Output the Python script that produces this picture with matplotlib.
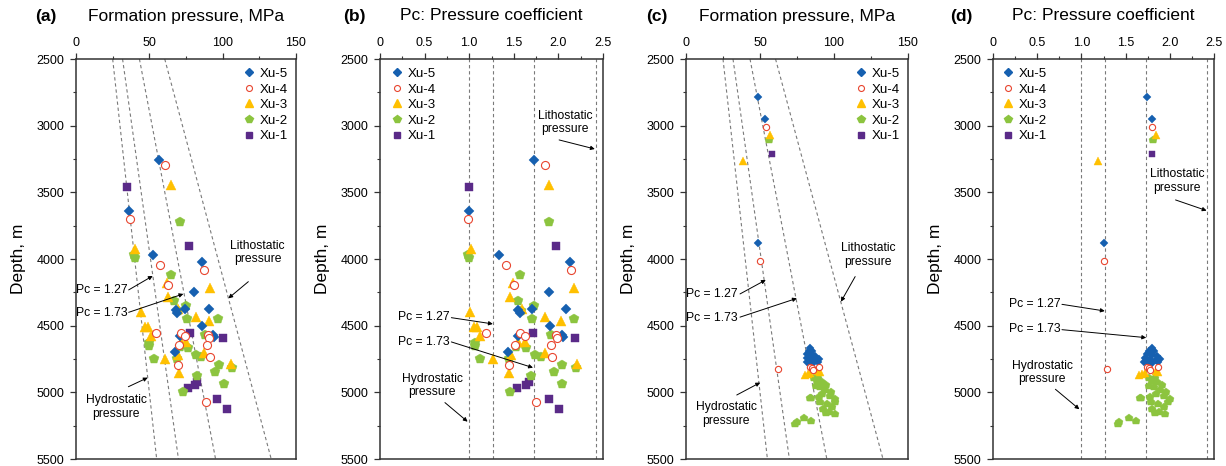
import numpy as np
import matplotlib
matplotlib.use("Agg")
import matplotlib.pyplot as plt
from matplotlib.lines import Line2D
from matplotlib.ticker import MultipleLocator, FuncFormatter

plt.rcParams["font.family"] = ["Liberation Sans", "DejaVu Sans"]

# hydrostatic gradient, MPa per metre
HYDRO_GRAD = 0.01
# reference coefficients: hydrostatic, Pc = 1.27, Pc = 1.73, lithostatic
REF_PC = [1.0, 1.27, 1.73, 2.42]

WELLS = ["Xu-5", "Xu-4", "Xu-3", "Xu-2", "Xu-1"]

# ---------- group 1 (panels a, b): depth (m) and pressure coefficient ----------
XU5_DEPTH_1 = [3260, 3642, 3972, 4022, 4248, 4372, 4375, 4385, 4405, 4503, 4567, 4587, 4577, 4700]
XU5_PC_1 = [1.73, 1.00, 1.33, 2.13, 1.90, 2.08, 1.70, 1.55, 1.57, 1.91, 2.04, 2.05, 1.55, 1.44]

XU4_DEPTH_1 = [3292, 3700, 4045, 4080, 4192, 4557, 4555, 4577, 4572, 4592, 4645, 4647, 4737, 4792, 5070]
XU4_PC_1 = [1.85, 0.99, 1.41, 2.14, 1.50, 1.19, 1.57, 1.62, 1.97, 1.98, 1.51, 1.92, 1.93, 1.45, 1.75]

XU3_DEPTH_1 = [3445, 3922, 4182, 4215, 4283, 4377, 4397, 4433, 4465, 4512, 4512, 4580,
               4620, 4620, 4707, 4720, 4752, 4785, 4857]
XU3_PC_1 = [1.89, 1.02, 1.49, 2.17, 1.46, 1.59, 1.01, 1.85, 2.03, 1.05, 1.09, 1.12,
            1.55, 1.62, 1.85, 1.47, 1.27, 2.21, 1.45]

XU2_DEPTH_1 = [3725, 3972, 3990, 4122, 4312, 4352, 4387, 4452, 4452, 4572, 4630, 4652,
               4662, 4670, 4720, 4737, 4752, 4752, 4795, 4820, 4845, 4877, 4937, 4997]
XU2_PC_1 = [1.90, 0.99, 1.00, 1.57, 1.55, 1.73, 1.58, 1.70, 2.18, 1.92, 1.07, 1.07,
            1.52, 1.64, 1.74, 1.80, 1.12, 1.45, 2.04, 2.20, 1.95, 1.69, 2.04, 1.46]

XU1_DEPTH_1 = [3462, 3900, 4553, 4590, 4968, 4945, 4920, 5052, 5127]
XU1_PC_1 = [1.00, 1.97, 1.71, 2.19, 1.54, 1.64, 1.67, 1.90, 2.01]

# ---------- group 2 (panels c, d) ----------
XU5_DEPTH_2 = [2787, 2950, 3882, 4667, 4687, 4692, 4712, 4717, 4725, 4742, 4750, 4757,
               4750, 4775, 4782, 4770, 4795, 4775]
XU5_PC_2 = [1.74, 1.80, 1.26, 1.80, 1.77, 1.82, 1.74, 1.80, 1.85, 1.72, 1.78, 1.84,
            1.89, 1.75, 1.80, 1.87, 1.76, 1.71]

XU4_DEPTH_2 = [3007, 4017, 4822, 4812, 4817, 4830, 4812]
XU4_PC_2 = [1.80, 1.25, 1.29, 1.74, 1.77, 1.78, 1.87]

XU3_DEPTH_2 = [3067, 3262, 4868, 4860, 4855, 4838, 4845]
XU3_PC_2 = [1.84, 1.19, 1.65, 1.69, 1.72, 1.84, 1.87]

XU2_DEPTH_2 = [3110, 5042, 5045, 5225, 5237, 5195, 5212,
               4895, 4890, 4912, 4925, 4942, 4962, 4982, 5000, 5012, 5025, 5032, 5050,
               5075, 5075, 5087, 5112, 5125, 5150, 5157, 5162, 4950]
XU2_PC_2 = [1.81, 1.66, 1.67, 1.43, 1.41, 1.54, 1.62,
            1.76, 1.83, 1.80, 1.86, 1.91, 1.82, 1.89, 1.96, 1.84, 1.94, 1.78, 2.00,
            1.79, 1.98, 1.87, 1.93, 1.80, 1.88, 1.83, 1.95, 1.77]

XU1_DEPTH_2 = [3215]
XU1_PC_2 = [1.80]

GROUP_1 = {
    "Xu-5": (XU5_DEPTH_1, XU5_PC_1),
    "Xu-4": (XU4_DEPTH_1, XU4_PC_1),
    "Xu-3": (XU3_DEPTH_1, XU3_PC_1),
    "Xu-2": (XU2_DEPTH_1, XU2_PC_1),
    "Xu-1": (XU1_DEPTH_1, XU1_PC_1),
}
GROUP_2 = {
    "Xu-5": (XU5_DEPTH_2, XU5_PC_2),
    "Xu-4": (XU4_DEPTH_2, XU4_PC_2),
    "Xu-3": (XU3_DEPTH_2, XU3_PC_2),
    "Xu-2": (XU2_DEPTH_2, XU2_PC_2),
    "Xu-1": (XU1_DEPTH_2, XU1_PC_2),
}

# marker, colour, size in the big panels, size in the small panels, legend size
STYLE = {
    "Xu-5": ("D", "#1660b0", 5.2, 4.2, 3.6),
    "Xu-4": ("o", "#e8452f", 5.8, 4.5, 4.3),
    "Xu-3": ("^", "#ffc000", 6.5, 5.4, 5.1),
    "Xu-2": ("p", "#8cc43f", 7.2, 6.2, 5.4),
    "Xu-1": ("s", "#5a2a88", 5.3, 4.3, 4.1),
}
DRAW_ORDER = ["Xu-1", "Xu-2", "Xu-3", "Xu-5", "Xu-4"]

AX_COLOR = "#333333"
REF_COLOR = "#7a7a7a"


def draw_marks(ax, group, kind, size_idx):
    for well in DRAW_ORDER:
        depth, pc = group[well]
        depth = np.asarray(depth, float)
        pc = np.asarray(pc, float)
        x = pc * HYDRO_GRAD * depth if kind == "p" else pc
        marker, color, *sizes = STYLE[well]
        ms = sizes[size_idx]
        if marker == "o":
            ax.plot(x, depth, ls="none", marker=marker, ms=ms, mfc="white",
                    mec=color, mew=0.8, zorder=4)
        else:
            ax.plot(x, depth, ls="none", marker=marker, ms=ms, color=color,
                    mec=color, mew=0.3, zorder=3)


def setup_axes(ax, kind):
    ax.set_ylim(5500, 2500)
    ax.yaxis.set_major_locator(MultipleLocator(500))
    ax.yaxis.set_minor_locator(MultipleLocator(250))
    ax.xaxis.tick_top()
    if kind == "p":
        ax.set_xlim(0, 150)
        ax.xaxis.set_major_locator(MultipleLocator(50))
        ax.xaxis.set_minor_locator(MultipleLocator(25))
    else:
        ax.set_xlim(0, 2.5)
        ax.xaxis.set_major_locator(MultipleLocator(0.5))
        ax.xaxis.set_minor_locator(MultipleLocator(0.25))
        ax.xaxis.set_major_formatter(FuncFormatter(lambda v, _: "0" if v == 0 else f"{v:.1f}"))
    ax.tick_params(which="major", direction="out", length=4, width=0.9,
                   color=AX_COLOR, labelsize=9)
    ax.tick_params(which="minor", direction="out", length=2.5, width=0.8, color=AX_COLOR)
    ax.tick_params(axis="x", which="major", pad=3)
    ax.tick_params(axis="y", which="major", pad=4.5)
    for sp in ax.spines.values():
        sp.set_linewidth(1.1)
        sp.set_color(AX_COLOR)
    ax.set_ylabel("Depth, m", fontsize=12.5)
    ax.yaxis.set_label_coords(-0.225, 0.5)


def reference_lines(ax, kind):
    for pc in REF_PC:
        if kind == "p":
            d = np.array([2500.0, 5500.0])
            ax.plot(pc * HYDRO_GRAD * d, d, color=REF_COLOR, lw=0.8,
                    ls=(0, (3, 2.5)), zorder=1)
        else:
            ax.axvline(pc, color=REF_COLOR, lw=0.8, ls=(0, (3, 2.5)), zorder=1)


def arrow(ax, tail, head):
    ax.annotate("", xy=head, xytext=tail,
                arrowprops=dict(arrowstyle="-|>", color="black", lw=0.7,
                                mutation_scale=6, shrinkA=0, shrinkB=0))


def add_notes(ax, notes):
    lith, p127, p173, hydro = notes
    ax.text(*lith[0], "Lithostatic\npressure", ha="center", va="center",
            fontsize=8.7, linespacing=1.15)
    arrow(ax, lith[1], lith[2])
    ax.text(*p127[0], "Pc = 1.27", ha="right", va="center", fontsize=8.7)
    arrow(ax, p127[1], p127[2])
    ax.text(*p173[0], "Pc = 1.73", ha="right", va="center", fontsize=8.7)
    arrow(ax, p173[1], p173[2])
    ax.text(*hydro[0], "Hydrostatic\npressure", ha="center", va="center",
            fontsize=8.7, linespacing=1.15)
    arrow(ax, hydro[1], hydro[2])


def add_legend(ax, anchor_x):
    handles = []
    for well in WELLS:
        marker, color, _, _, lsize = STYLE[well]
        if marker == "o":
            h = Line2D([], [], ls="none", marker=marker, ms=lsize, mfc="white",
                       mec=color, mew=0.8)
        else:
            h = Line2D([], [], ls="none", marker=marker, ms=lsize, color=color)
        handles.append(h)
    ax.legend(handles, WELLS, loc="upper left", bbox_to_anchor=(anchor_x, 0.978),
              frameon=False, fontsize=9.5, handlelength=0.8, handletextpad=0.4,
              labelspacing=0.25, borderpad=0, borderaxespad=0)


fig = plt.figure(figsize=(12.26, 4.66), dpi=100)

# axes boxes in pixels: left, right
boxes = [(76, 296), (380, 603), (686, 908), (993, 1214)]
kinds = ["p", "c", "p", "c"]
groups = [GROUP_1, GROUP_1, GROUP_2, GROUP_2]
letters = ["(a)", "(b)", "(c)", "(d)"]
letter_x = [35, 343, 646, 950]
titles = ["Formation pressure, MPa", "Pc: Pressure coefficient",
          "Formation pressure, MPa", "Pc: Pressure coefficient"]
legend_x = [0.761, 0.051, 0.763, 0.0425]

notes = [
    [((123.8, 3949), (117.5, 4170), (103.9, 4295)),
     ((35.0, 4232), (35.9, 4232), (52.3, 4127)),
     ((35.0, 4407), (35.9, 4400), (73.2, 4262)),
     ((27.3, 5110), (35.7, 4958), (48.9, 4890))],
    [((2.075, 2976), (2.008, 3107), (2.408, 3175)),
     ((0.784, 4437), (0.80, 4440), (1.265, 4487)),
     ((0.784, 4620), (0.80, 4622), (1.715, 4815)),
     ((0.586, 4949), (0.728, 5077), (0.982, 5220))],
    [((122.9, 3970), (114.3, 4132), (104.7, 4320)),
     ((35.2, 4265), (36.5, 4262), (53.9, 4157)),
     ((35.2, 4440), (36.5, 4436), (74.9, 4295)),
     ((27.1, 5162), (34.3, 5020), (50.1, 4927))],
    [((2.085, 3415), (2.065, 3557), (2.416, 3637)),
     ((0.762, 4337), (0.78, 4340), (1.264, 4390)),
     ((0.762, 4527), (0.78, 4530), (1.733, 4590)),
     ((0.555, 4851), (0.706, 4977), (0.977, 5127))],
]

W, H = 1226.0, 466.0
for i in range(4):
    left, right = boxes[i]
    ax = fig.add_axes([left / W, 1 - 459 / H, (right - left) / W, 400 / H])
    setup_axes(ax, kinds[i])
    reference_lines(ax, kinds[i])
    draw_marks(ax, groups[i], kinds[i], 0 if i < 2 else 1)
    add_notes(ax, notes[i])
    add_legend(ax, legend_x[i])
    fig.text(letter_x[i] / W, 1 - 20.5 / H, letters[i], fontsize=12.5,
             fontweight="bold", va="baseline")
    fig.text((left + right) / 2 / W, 1 - 20.5 / H, titles[i], fontsize=12.5,
             ha="center", va="baseline")

fig.savefig("out.png", dpi=100)
